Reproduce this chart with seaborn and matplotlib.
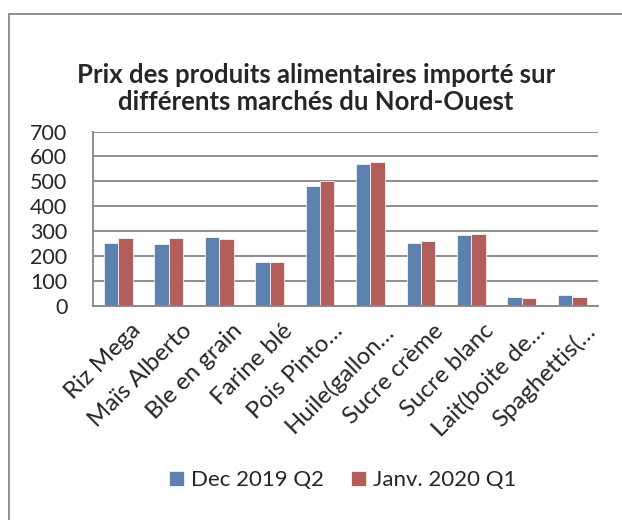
import pandas as pd
import matplotlib.pyplot as plt
import matplotlib.transforms as mtransforms
import seaborn as sns
from matplotlib.lines import Line2D

# Données
produits = ['Riz Mega', 'Maïs Alberto', 'Ble en grain', 'Farine blé', 'Pois Pinto…',
            'Huile(gallon…', 'Sucre crème', 'Sucre blanc', 'Lait(boite de…', 'Spaghettis(…']
dec_2019_q2 = [254, 250, 275, 175, 481, 570, 254, 285, 36, 44]
janv_2020_q1 = [273, 273, 267, 176, 501, 578, 262, 289, 34, 38]
series = ['Dec 2019 Q2', 'Janv. 2020 Q1']
couleurs = ['#4F81BD', '#C0504D']

df = pd.DataFrame({'produit': produits * 2,
                   'serie': [series[0]] * len(produits) + [series[1]] * len(produits),
                   'prix': dec_2019_q2 + janv_2020_q1})

sns.set_style('white')
plt.rcParams['font.family'] = ['Lato', 'DejaVu Sans']

fig = plt.figure(figsize=(6.22, 5.2), dpi=100)
ax = fig.add_axes([93 / 622, 1 - 306 / 520, (597.5 - 93) / 622, (306 - 131.5) / 520])

sns.barplot(data=df, x='produit', y='prix', hue='serie', palette=couleurs,
            width=0.57, edgecolor='white', linewidth=0.5, ax=ax, legend=True)

ax.set_ylim(0, 700)
ax.set_yticks(range(0, 701, 100))
ax.yaxis.grid(True, color='#868686', linewidth=1.3)
ax.set_axisbelow(True)
ax.set_xlabel('')
ax.set_ylabel('')
for s in ['top', 'right']:
    ax.spines[s].set_visible(False)
for s in ['left', 'bottom']:
    ax.spines[s].set_color('#868686')
    ax.spines[s].set_linewidth(1.3)
ax.tick_params(axis='y', labelsize=15.5, length=0, pad=18.5)
ax.tick_params(axis='x', labelsize=17.3, length=0, pad=10)
# étiquettes décalées un peu à droite comme dans Excel
decalage = mtransforms.ScaledTranslation(0.12, 0, fig.dpi_scale_trans)
for lab in ax.get_xticklabels():
    lab.set_rotation(45)
    lab.set_ha('right')
    lab.set_rotation_mode('anchor')
    lab.set_transform(lab.get_transform() + decalage)

fig.text(0.508, 1 - 75 / 520, 'Prix des produits alimentaires importé sur',
         fontsize=18.5, fontweight='bold', ha='center', va='center')
fig.text(0.508, 1 - 102 / 520, 'différents marchés du Nord-Ouest',
         fontsize=18.5, fontweight='bold', ha='center', va='center')

handles, labels = ax.get_legend_handles_labels()
ax.legend_.remove()
fig.legend(handles, labels, loc='center', bbox_to_anchor=(343 / 622, 1 - 480 / 520), ncol=2,
           frameon=False, fontsize=16, handlelength=0.68, handleheight=0.68,
           handletextpad=0.32, columnspacing=1.2)

# cadre du graphique
fig.add_artist(Line2D([9 / 622, 9 / 622], [0, 1 - 14 / 520], color='#868686', linewidth=1.3))
fig.add_artist(Line2D([9 / 622, 1], [1 - 14 / 520, 1 - 14 / 520], color='#868686', linewidth=1.3))

plt.savefig('out.png', dpi=100)
